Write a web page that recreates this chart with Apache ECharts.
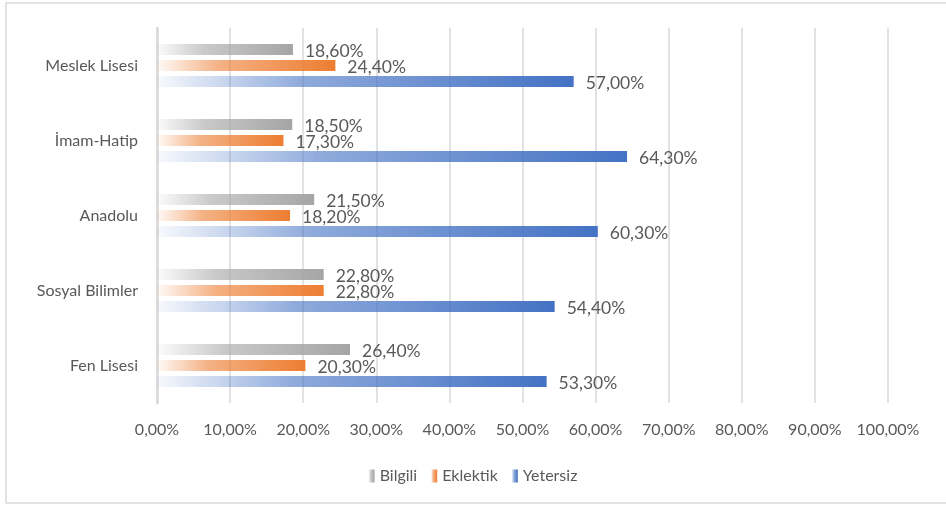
<!DOCTYPE html>
<html>
<head>
<meta charset="utf-8">
<script src="https://cdn.jsdelivr.net/npm/echarts@6/dist/echarts.min.js"></script>
<style>
html,body{margin:0;padding:0;background:#fff;}
#main{width:946px;height:505px;}
</style>
</head>
<body>
<div id="main"></div>
<script>
// Categories top to bottom
const categories = ['Meslek Lisesi', 'İmam-Hatip', 'Anadolu', 'Sosyal Bilimler', 'Fen Lisesi'];
const seriesNames = ['Bilgili', 'Eklektik', 'Yetersiz'];
const bilgili = [18.6, 18.5, 21.5, 22.8, 26.4];
const eklektik = [24.4, 17.3, 18.2, 22.8, 20.3];
const yetersiz = [57.0, 64.3, 60.3, 54.4, 53.3];
const baseColors = [[165,165,165], [237,125,49], [68,114,196]];

function grad(c) {
  return new echarts.graphic.LinearGradient(0, 0, 1, 0, [
    {offset: 0, color: `rgba(${c[0]},${c[1]},${c[2]},0.04)`},
    {offset: 0.35, color: `rgba(${c[0]},${c[1]},${c[2]},0.6)`},
    {offset: 1, color: `rgba(${c[0]},${c[1]},${c[2]},1)`}
  ]);
}
const fmt = v => v.toFixed(2).replace('.', ',') + '%';
const font = 'Lato';
const txt = '#595959';

const chart = echarts.init(document.getElementById('main'));
const data = [bilgili, eklektik, yetersiz];
chart.setOption({
  animation: false,
  textStyle: {fontFamily: font},
  graphic: [{
    type: 'rect', shape: {x: 6, y: 3, width: 980, height: 500},
    style: {fill: 'none', stroke: '#d9d9d9', lineWidth: 1.5}, silent: true, z: -1
  }],
  legend: {
    data: seriesNames, top: 463, left: 'center',
    icon: 'rect', itemWidth: 6, itemHeight: 13, itemGap: 14,
    textStyle: {color: txt, fontSize: 16, fontFamily: font}
  },
  grid: {left: 157, right: 58, top: 28, bottom: 102, containLabel: false},
  xAxis: {
    type: 'value', min: 0, max: 100, interval: 10,
    axisLine: {show: false}, axisTick: {show: false},
    splitLine: {lineStyle: {color: '#d9d9d9', width: 1.5}},
    axisLabel: {color: txt, fontSize: 16, margin: 19, fontFamily: font,
      formatter: v => v.toFixed(2).replace('.', ',') + '%'}
  },
  yAxis: {
    type: 'category', data: categories, inverse: true,
    axisLine: {lineStyle: {color: '#d9d9d9', width: 2.5}},
    axisTick: {show: false},
    axisLabel: {color: txt, fontSize: 16, margin: 19, fontFamily: font}
  },
  series: seriesNames.map((n, i) => ({
    name: n, type: 'bar', data: data[i], barWidth: 11, barGap: '45%',
    itemStyle: {color: grad(baseColors[i])},
    label: {show: true, position: 'right', distance: 12, offset: [0, 2], color: txt, fontSize: 17.5,
      fontFamily: font, formatter: p => fmt(p.value)}
  }))
});
</script>
</body>
</html>
